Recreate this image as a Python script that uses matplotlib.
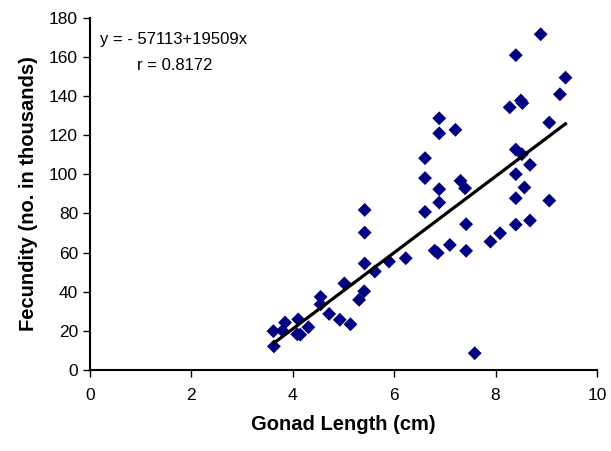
import matplotlib.pyplot as plt
import numpy as np

plt.rcParams['font.family'] = ['Liberation Sans', 'DejaVu Sans']

# gonad length (cm) and fecundity (thousands)
gonad_length = [3.62, 3.63, 3.80, 3.85, 4.09, 4.15, 4.11, 4.31, 4.55, 4.55,
                4.72, 4.93, 5.14, 5.02, 5.31, 5.41, 5.42, 5.62, 5.42, 5.42,
                5.90, 6.23, 6.61, 6.61, 6.61, 6.80, 6.86, 6.89, 6.89, 6.89,
                6.89, 7.10, 7.21, 7.31, 7.40, 7.42, 7.42, 7.59, 7.90, 8.09,
                8.28, 8.40, 8.40, 8.52, 8.50, 8.53, 8.68, 8.40, 8.57, 8.40,
                8.40, 8.68, 8.89, 9.06, 9.06, 9.27, 9.38]
fecundity = [19.8, 12.0, 20.0, 24.2, 18.2, 18.0, 25.8, 21.8, 37.3, 33.5,
             28.6, 25.6, 23.3, 44.2, 35.8, 40.2, 54.4, 50.3, 70.2, 81.8,
             55.4, 57.1, 108.3, 98.1, 80.8, 61.0, 59.8, 128.7, 121.0, 92.4,
             85.6, 63.9, 122.8, 96.7, 92.9, 74.5, 60.9, 8.5, 65.6, 69.9,
             134.3, 161.0, 112.7, 110.3, 137.8, 136.5, 104.9, 100.1, 93.3, 87.8,
             74.3, 76.4, 171.7, 126.5, 86.6, 141.0, 149.5]

# fitted line from the chart: y = -57113 + 19509x (in thousands)
intercept = -57.113
slope = 19.509

fig = plt.figure(figsize=(6.11, 4.51), dpi=100)
ax = fig.add_axes([0.147, 0.180, 0.830, 0.780])

ax.scatter(gonad_length, fecundity, marker='D', s=50, color='#000080',
           edgecolors='none', zorder=3)
xs = np.array([min(gonad_length), max(gonad_length)])
ax.plot(xs, intercept + slope * xs, color='black', linewidth=2.3, zorder=4)

ax.set_xlim(0, 10)
ax.set_ylim(0, 180)
ax.set_xticks(np.arange(0, 11, 2))
ax.set_yticks(np.arange(0, 181, 20))
for s in ['top', 'right']:
    ax.spines[s].set_visible(False)
for s in ['left', 'bottom']:
    ax.spines[s].set_linewidth(1.5)
ax.tick_params(axis='both', labelsize=12.5, length=5, width=1, direction='out')
ax.tick_params(axis='x', pad=8)

ax.set_xlabel('Gonad Length (cm)', fontsize=14.5, fontweight='bold', labelpad=9)
ax.set_ylabel('Fecundity (no. in thousands)', fontsize=14.5, fontweight='bold', labelpad=8)

ax.text(0.2, 168.8, 'y = - 57113+19509x', fontsize=12, ha='left', va='center')
ax.text(1.68, 155.5, 'r = 0.8172', fontsize=12, ha='center', va='center')

plt.savefig('out.png')
